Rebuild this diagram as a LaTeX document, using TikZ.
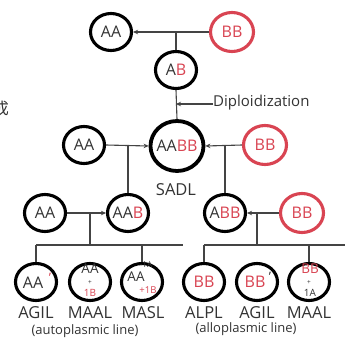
\documentclass[tikz,border=0pt]{standalone}
\usepackage{fontspec}
\setmainfont{Open Sans}
\newfontfamily\cjk{Noto Sans CJK SC}
\usetikzlibrary{shapes.geometric,arrows.meta}
\definecolor{rd}{HTML}{D94452}
\definecolor{tx}{HTML}{333333}
\definecolor{ln}{HTML}{444444}
\begin{document}
\begin{tikzpicture}[x=1pt,y=-1pt,
 ring/.style={ellipse,draw=black,line width=3.1pt,minimum width=41pt,minimum height=37pt,inner sep=0pt},
 redring/.style={ring,draw=rd,minimum width=43pt,minimum height=39pt},
 bigring/.style={ring,line width=3.8pt,minimum width=53pt,minimum height=50pt},
 conn/.style={draw=ln,line width=1.1pt},
 arr/.style={conn,-{Stealth[length=5pt,width=4.5pt]}},
 gt/.style={text=tx,font=\fontsize{16}{16}\selectfont,inner sep=0pt},
 gs/.style={text=tx,font=\fontsize{13.5}{13.5}\selectfont,inner sep=0pt,anchor=base},
 lab/.style={text=tx,font=\fontsize{16.5}{16.5}\selectfont,inner sep=0pt},
 sub/.style={text=tx,font=\fontsize{13}{13}\selectfont,inner sep=0pt},
 plus/.style={text=tx,font=\fontsize{6.5}{6.5}\selectfont,inner sep=0pt,anchor=base},
 tiny/.style={text=tx,font=\fontsize{8}{8}\selectfont,inner sep=0pt},
 sm/.style={text=tx,font=\fontsize{10}{10}\selectfont,inner sep=0pt,anchor=base},
 prime/.style={text=tx,font=\fontsize{13}{13}\selectfont,inner sep=0pt}]
\fill[white] (0,0) rectangle (345,354);
\useasboundingbox (0,0) rectangle (345,354);
% top row
\node[ring] (aa1) at (111,32) {};
\node[redring] (bb1) at (232,32) {};
\node[ring] (ab) at (176,70) {};
\node[gt] (aa1t) at (aa1) {AA};
\node[gt,text=rd] (bb1t) at (bb1) {BB};
\node[gt] (abt) at (ab) {A\textcolor{rd}{B}};
% second row
\node[ring] (aa2) at (84,145) {};
\node[bigring] (aabb) at (177,146) {};
\node[redring] (bb2) at (265,145) {};
\node[gt] (aa2t) at (aa2) {AA};
\node[gt] (aabbt) at (aabb) {AA\textcolor{rd}{BB}};
\node[gt,text=rd] (bb2t) at (bb2) {BB};
\node[lab] (sadl) at (176,190) {SADL};
% third row
\node[ring] (aa3) at (45,213) {};
\node[ring] (aab) at (128,213) {};
\node[ring] (abb) at (225,213) {};
\node[redring] (bb3) at (302,213) {};
\node[gt] (aa3t) at (aa3) {AA};
\node[gt] (aabt) at (aab) {AA\textcolor{rd}{B}};
\node[gt] (abbt) at (abb) {A\textcolor{rd}{BB}};
\node[gt,text=rd] (bb3t) at (bb3) {BB};
% bottom row
\node[ring] (agil1) at (36,282) {};
\node[ring] (maal1) at (90,282) {};
\node[ring] (masl) at (142,282) {};
\node[ring] (alpl) at (204,282) {};
\node[ring] (agil2) at (257,282) {};
\node[ring] (maal2) at (309,282) {};
% bottom row contents
\node[gt] (agil1t) at (33,283) {AA};
\node[prime,text=rd] (agil1p) at (50,278) {'};
\node[gs] (maal1a) at (90,273) {AA};
\node[plus] (maal1p) at (90,284) {+};
\node[sm,text=rd] (maal1b) at (90,296.5) {1B};
\node[tiny] (masla) at (146,265) {-1A};
\node[gs,anchor=center] (maslb) at (136,277) {AA};
\node[tiny,font=\fontsize{9.5}{9.5}\selectfont,text=rd] (maslc) at (148,290) {+1B};
\node[gt,text=rd] (alplt) at (204,282) {BB};
\node[gt,text=rd] (agil2t) at (255,282) {BB};
\node[prime] (agil2p) at (270,277) {'};
\node[gs,text=rd] (maal2a) at (310,273) {BB};
\node[plus] (maal2p) at (309,284) {+};
\node[sm] (maal2b) at (310,296.5) {1A};
% labels
\node[lab] (l1) at (36,313) {AGIL};
\node[lab] (l2) at (90,313) {MAAL};
\node[lab] (l3) at (143,313) {MASL};
\node[lab] (l4) at (204,313) {ALPL};
\node[lab] (l5) at (257,313) {AGIL};
\node[lab] (l6) at (309,313) {MAAL};
\node[sub] (s1) at (85,331) {(autoplasmic line)};
\node[sub] (s2) at (246,329) {(alloplasmic line)};
\node[sub,font=\fontsize{15}{15}\selectfont,anchor=west] (dip) at (213,103) {Diploidization};
% connectors
\draw[arr] (bb1.west) -- (aa1.east);
\draw[conn] (ab.north) -- (ab.north |- aa1.east);
\draw[conn] (ab.south) -- (aabb.north);
\draw[arr] (dip.west |- 0,104) -- (ab.south |- 0,104);
\draw[arr] (aa2.east) -- (aabb.west);
\draw[conn] (aab.north) -- (aab.north |- aa2.east);
\draw[arr] (bb2.west) -- (aabb.east);
\draw[conn] (abb.north) -- (abb.north |- bb2.west);
\draw[arr] (aa3.east) -- (aab.west);
\draw[arr] (bb3.west) -- (abb.east);
\coordinate (bl1) at (36,245);
\coordinate (bl2) at (183,245);
\coordinate (br1) at (204,245);
\coordinate (br2) at (345,245);
\draw[conn] (bl1) -- (bl2);
\draw[conn] (br1) -- (br2);
\draw[conn] (maal1.north |- aa3.east) -- (maal1.north |- bl1);
\draw[conn] (agil1.north) -- (agil1.north |- bl1);
\draw[conn] (masl.north) -- (masl.north |- bl1);
\draw[conn] (agil2.north |- bb3.west) -- (agil2.north |- br1);
\draw[conn] (alpl.north) -- (alpl.north |- br1);
\draw[conn] (maal2.north) -- (maal2.north |- br1);
% cut-off character at the left edge
\begin{scope}
\clip (0,0) rectangle (345,354);
\node[text=tx,font=\cjk\fontsize{16}{16}\selectfont,inner sep=0pt] (cjkc) at (1,108) {成};
\end{scope}
\end{tikzpicture}
\end{document}
